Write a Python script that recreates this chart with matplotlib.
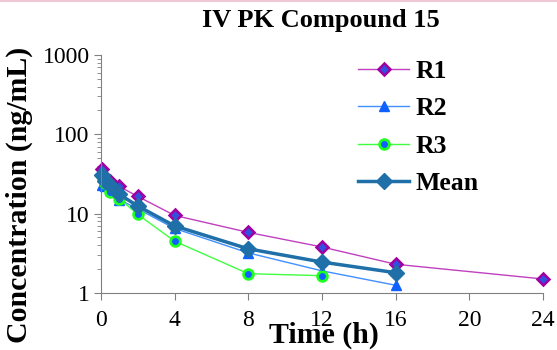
import numpy as np
import matplotlib
matplotlib.use('Agg')
from matplotlib import pyplot as plt

plt.rcParams['font.family'] = ['Liberation Serif', 'DejaVu Serif']

# sampling times (h)
time_r = [0.083, 0.25, 0.5, 1, 2, 4, 8, 12, 16, 24]
r1 = [37, 29, 26, 22, 16.5, 9.5, 5.8, 3.8, 2.3, 1.5]
time_r2 = [0.083, 0.25, 0.5, 1, 2, 4, 8, 12, 16]
r2 = [23, 22, 20, 15, 11.5, 6.5, 3.2, 1.9, 1.25]
time_r3 = [0.083, 0.25, 0.5, 1, 2, 4, 8, 12]
r3 = [30, 24, 19, 15.5, 9.8, 4.5, 1.75, 1.65]
time_mean = [0.083, 0.25, 0.5, 1, 2, 4, 8, 12, 16]
mean = [31, 25.5, 23, 17.5, 12.5, 7.0, 3.6, 2.45, 1.8]

fig = plt.figure(figsize=(5.57, 3.5), dpi=100)
ax = fig.add_axes([0.181, 0.163, 0.794, 0.680])

l1 = ax.plot(time_r, r1, '-', color='#c040c0', lw=1, marker='D', ms=6,
             mfc='#3050e0', mec='#a000a0', mew=1.8, clip_on=False)
l2 = ax.plot(time_r2, r2, '-', color='#4090ff', lw=1, marker='^', ms=7,
             mfc='#1060ff', mec='#1060ff', clip_on=False)
l3 = ax.plot(time_r3, r3, '-', color='#40ff40', lw=1, marker='o', ms=7,
             mfc='#1060ff', mec='#20ff20', mew=2, clip_on=False)
l4 = ax.plot(time_mean, mean, '-', color='#1f6fa8', lw=2.5, marker='D', ms=8.5,
             mfc='#1f6fa8', mec='#1f6fa8', clip_on=False)

ax.set_yscale('log')
ax.set_ylim(1, 1000)
ax.set_xlim(0, 24)
ax.set_xticks(np.arange(0, 25, 4))
ax.set_yticks([1, 10, 100, 1000])
ax.set_yticklabels(['1', '10', '100', '1000'])

for s in ['top', 'right']:
    ax.spines[s].set_visible(False)
for s in ['left', 'bottom']:
    ax.spines[s].set_color('#808080')
ax.tick_params(axis='both', colors='#808080', labelcolor='black', labelsize=17,
               direction='out', length=5, pad=3)
ax.tick_params(axis='x', pad=7)
ax.tick_params(axis='y', which='minor', colors='#808080', length=3)

ax.set_xlabel('Time (h)', fontsize=21.5, fontweight='bold', va='center')
ax.xaxis.set_label_coords(0.505, -0.178)
ax.set_ylabel('Concentration (ng/mL)', fontsize=21.5, fontweight='bold', va='center')
ax.yaxis.set_label_coords(-0.185, 0.41)
fig.text(0.576, 1 - 20 / 350, 'IV PK Compound 15', fontsize=19, fontweight='bold',
         ha='center', va='center')

fig.legend([l1[0], l2[0], l3[0], l4[0]], ['R1', 'R2', 'R3', 'Mean'],
           loc='upper left', bbox_to_anchor=(358 / 557, 1 - 60 / 350), frameon=False,
           prop={'weight': 'bold', 'size': 18.5}, labelspacing=0.56, handlelength=2.0,
           handletextpad=0.25, borderpad=0, borderaxespad=0)

fig.add_artist(plt.Line2D([0, 1], [0.997, 0.997], color='#f0c8d8', lw=1.5))

fig.savefig('out.png', dpi=100)
